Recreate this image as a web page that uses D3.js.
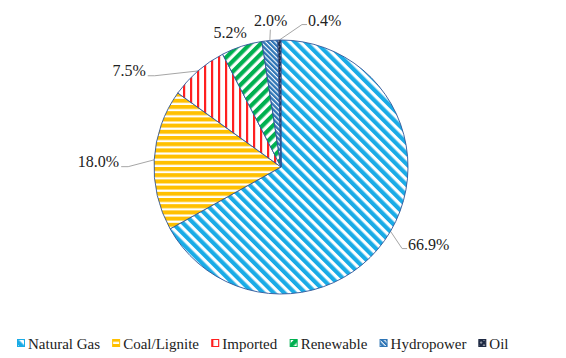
<!DOCTYPE html>
<html>
<head>
<meta charset="utf-8">
<script src="https://cdn.jsdelivr.net/npm/d3@7"></script>
<style>
  body { margin: 0; background: #fff; }
</style>
</head>
<body>
<svg id="chart" width="566" height="358"></svg>
<script>
// data
const categories = ['Natural Gas', 'Coal/Lignite', 'Imported', 'Renewable', 'Hydropower', 'Oil']
const shares = [66.9, 18.0, 7.5, 5.2, 2.0, 0.4]
const shareLabels = ['66.9%', '18.0%', '7.5%', '5.2%', '2.0%', '0.4%']

// look
const colors = ['#1AABE6', '#FFC000', '#FF2020', '#00B050', '#2E75B6', '#1F2A44']
// label placement: angle (deg, clockwise from top), radius factor, anchor, leader
const labelSpots = [
  { ang: 121.2, k: 1.17, anchor: 'start', leader: true },
  { ang: 272.1, k: 1.275, anchor: 'end', leader: true },
  { ang: 305.6, k: 1.31, anchor: 'end', leader: true },
  { ang: 339.3, k: 1.135, anchor: 'middle', leader: false },
  { ang: 356.0, k: 1.16, anchor: 'middle', leader: true },
  { ang: 10.4, k: 1.177, anchor: 'start', leader: true }
]

const $svg = d3.select('#chart')
const defs = $svg.append('defs')

const cx = 281, cy = 167, radius = 127

function stripes(id, color, period, band, rotate) {
  const p = defs.append('pattern')
    .attr('id', id)
    .attr('patternUnits', 'userSpaceOnUse')
    .attr('width', period)
    .attr('height', period)
    .attr('patternTransform', `rotate(${rotate})`)
  p.append('rect').attr('width', period).attr('height', period).attr('fill', '#fff')
  p.append('rect').attr('width', band).attr('height', period).attr('fill', color)
}

stripes('p0', colors[0], 7.4, 4.2, -45)
stripes('p1', colors[1], 6.2, 4.0, 90)
stripes('p2', colors[2], 7.0, 2.2, 0)
stripes('p3', colors[3], 7.4, 4.2, 45)
stripes('p4', colors[4], 3.4, 2.3, -45)

// oil: dark with small white dashes
const oil = defs.append('pattern')
  .attr('id', 'p5')
  .attr('patternUnits', 'userSpaceOnUse')
  .attr('width', 4).attr('height', 4)
  .attr('patternTransform', 'rotate(-45)')
oil.append('rect').attr('width', 4).attr('height', 4).attr('fill', colors[5])
oil.append('rect').attr('x', 2.5).attr('width', 1).attr('height', 2).attr('fill', '#fff')

const pie = d3.pie().sort(null).value(d => d)
const arcs = pie(shares)
const arc = d3.arc().innerRadius(0).outerRadius(radius)

const gPie = $svg.append('g').attr('transform', `translate(${cx},${cy})`)

gPie.selectAll('path.slice')
  .data(arcs)
  .join('path')
  .attr('class', 'slice')
  .attr('d', arc)
  .attr('fill', (d, i) => `url(#p${i})`)
  .attr('stroke', '#2F5597')
  .attr('stroke-width', 0.9)

function polar(angDeg, r) {
  const a = angDeg * Math.PI / 180
  return [r * Math.sin(a), -r * Math.cos(a)]
}

// labels + leader lines
arcs.forEach((d, i) => {
  const spot = labelSpots[i]
  const mid = (d.startAngle + d.endAngle) / 2 * 180 / Math.PI
  const [lx, ly] = polar(spot.ang, radius * spot.k)
  const [ax, ay] = polar(mid, radius)

  const t = gPie.append('text')
    .attr('x', lx)
    .attr('y', ly)
    .attr('dy', '0.35em')
    .attr('text-anchor', spot.anchor)
    .style('font-family', "'Liberation Serif'")
    .attr('font-size', 16)
    .attr('fill', '#222')
    .text(shareLabels[i])

  if (!spot.leader) return
  const bb = t.node().getBBox()
  let pts
  if (spot.anchor === 'start') {
    pts = [[ax, ay], [bb.x - 6, bb.y + bb.height - 4], [bb.x - 1, bb.y + bb.height - 4]]
  } else if (spot.anchor === 'end') {
    const ey = bb.y + bb.height - 3
    pts = [[ax, ay], [bb.x + bb.width + 9, ey], [bb.x + bb.width + 2, ey]]
  } else {
    pts = [[ax, ay], [ax + 0.5, bb.y + bb.height + 1]]
  }
  gPie.insert('path', 'path.slice')
    .attr('d', d3.line()(pts))
    .attr('fill', 'none')
    .attr('stroke', '#A6A6A6')
    .attr('stroke-width', 1)
})

// legend
const legend = $svg.append('g').attr('transform', 'translate(0,344)')
const items = legend.selectAll('g.item')
  .data(categories)
  .join('g')
  .attr('class', 'item')

items.append('rect')
  .attr('x', 0.5).attr('y', -4.5)
  .attr('width', 7).attr('height', 7)
  .attr('fill', (d, i) => `url(#p${i})`)
  .attr('stroke', (d, i) => colors[i])
  .attr('stroke-width', 1)

items.append('text')
  .attr('x', 11)
  .attr('dy', '0.35em')
  .style('font-family', "'Liberation Serif'")
  .attr('font-size', 15)
  .attr('fill', '#222')
  .text(d => d)

const widths = items.nodes().map(n => n.getBBox().width)
const left = 17, right = 508
const gap = (right - left - d3.sum(widths)) / (categories.length - 1)
let xPos = left
items.attr('transform', (d, i) => {
  const tr = `translate(${xPos},0)`
  xPos += widths[i] + gap
  return tr
})
</script>
</body>
</html>
